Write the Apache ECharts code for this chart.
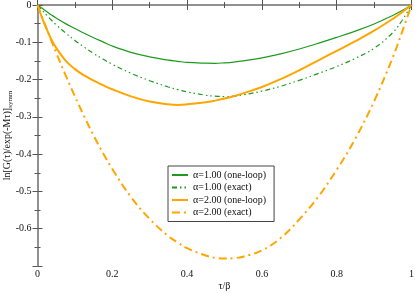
<!DOCTYPE html>
<html><head><meta charset="utf-8">
<script src="https://cdn.jsdelivr.net/npm/echarts@6/dist/echarts.min.js"></script>
<style>html,body{margin:0;padding:0;background:#fff}#c{width:415px;height:293px}</style>
</head><body><div id="c"></div>
<script>
var tau = [0, 0.0125, 0.025, 0.0375, 0.05, 0.075, 0.1, 0.125, 0.15, 0.175, 0.2, 0.25, 0.3, 0.35, 0.375, 0.4, 0.45, 0.475, 0.5, 0.525, 0.55, 0.6, 0.65, 0.7, 0.75, 0.8, 0.85, 0.9, 0.95, 0.975, 1];
var green1Loop  = [0, -0.009, -0.018, -0.027, -0.035, -0.050, -0.063, -0.076, -0.088, -0.099, -0.110, -0.127, -0.139, -0.148, -0.151, -0.154, -0.156, -0.1563, -0.155, -0.153, -0.150, -0.142, -0.131, -0.118, -0.103, -0.087, -0.070, -0.051, -0.028, -0.015, 0];
var greenExact  = [0, -0.014, -0.028, -0.041, -0.053, -0.075, -0.095, -0.113, -0.130, -0.145, -0.159, -0.183, -0.203, -0.220, -0.227, -0.233, -0.242, -0.2445, -0.2455, -0.2445, -0.241, -0.231, -0.218, -0.202, -0.184, -0.165, -0.143, -0.116, -0.074, -0.041, 0];
var orange1Loop = [0, -0.035, -0.066, -0.093, -0.115, -0.149, -0.172, -0.189, -0.203, -0.215, -0.226, -0.245, -0.259, -0.2665, -0.268, -0.2665, -0.261, -0.2565, -0.251, -0.2445, -0.237, -0.220, -0.199, -0.175, -0.149, -0.123, -0.097, -0.069, -0.037, -0.019, 0];
var orangeExact = [0, -0.033, -0.065, -0.097, -0.128, -0.188, -0.245, -0.299, -0.350, -0.397, -0.440, -0.515, -0.574, -0.620, -0.637, -0.652, -0.672, -0.678, -0.680, -0.679, -0.675, -0.658, -0.625, -0.575, -0.515, -0.442, -0.358, -0.258, -0.140, -0.072, 0];
var names = ['α=1.00 (one-loop)', 'α=1.00 (exact)', 'α=2.00 (one-loop)', 'α=2.00 (exact)'];
var xTicks = [0, 0.2, 0.4, 0.6, 0.8, 1];
var yTicks = [0, -0.1, -0.2, -0.3, -0.4, -0.5, -0.6];

function pairs(ys){ return tau.map(function(t,i){ return [t, ys[i]]; }); }
var GREEN = '#1f9a1f', ORANGE = '#ffa500';
var FONT = 'Liberation Serif';
var axLine = {lineStyle:{color:'#8a8a8a', width:1.5}};
var tick = {inside:true, length:5, lineStyle:{color:'#555', width:1}};
var mtick = {show:true, splitNumber:2, length:3, lineStyle:{color:'#555', width:1}};
var chart = echarts.init(document.getElementById('c'));
chart.setOption({
  animation:false,
  grid:{left:37.5, right:3.5, top:5, bottom:27, outerBoundsMode:'none', containLabel:false},
  legend:{
    orient:'vertical', left:168, top:166, width:108,
    padding:[4,8,4,3], itemGap:2.5, itemWidth:16, itemHeight:8,
    borderColor:'#444', borderWidth:1, backgroundColor:'#fff',
    itemStyle:{opacity:0},
    textStyle:{fontFamily:FONT, fontSize:10, color:'#111'},
    data: names
  },
  xAxis:[
    {type:'value', min:0, max:1, interval:0.2, position:'bottom',
     name:'τ/β', nameLocation:'middle', nameGap:15, nameMoveOverlap:false,
     nameTextStyle:{fontFamily:FONT, fontSize:10, color:'#111'},
     axisLine:axLine, axisTick:tick, minorTick:mtick, splitLine:{show:false},
     axisLabel:{fontFamily:FONT, fontSize:10, color:'#111', margin:3,
       formatter:function(v){ return xTicks.indexOf(+v.toFixed(2))>=0 ? String(+v.toFixed(2)) : ''; }}},
    {type:'value', min:0, max:1, interval:0.2, position:'top',
     axisLine:axLine, axisTick:tick, minorTick:mtick, splitLine:{show:false}, axisLabel:{show:false}}
  ],
  yAxis:[
    {type:'value', min:-0.7, max:0, interval:0.1, position:'left',
     name:'{a|ln[G(τ)/exp(-Mτ)]}{b|symm}', nameLocation:'middle', nameGap:24, nameRotate:90, nameMoveOverlap:false,
     nameTextStyle:{fontFamily:FONT, fontSize:10, color:'#111',
       rich:{a:{fontFamily:FONT, fontSize:10, color:'#111'}, b:{fontFamily:FONT, fontSize:7, color:'#111', padding:[6,0,0,0]}}},
     axisLine:axLine, axisTick:tick, minorTick:mtick, splitLine:{show:false},
     axisLabel:{fontFamily:FONT, fontSize:10, color:'#111', margin:6,
       formatter:function(v){ var r=+v.toFixed(2); return yTicks.indexOf(r)>=0 ? String(r) : ''; }}},
    {type:'value', min:-0.7, max:0, interval:0.1, position:'right',
     axisLine:axLine, axisTick:tick, minorTick:mtick, splitLine:{show:false}, axisLabel:{show:false}}
  ],
  series:[
    {name:names[0], type:'line', smooth:0.4, symbol:'none', data:pairs(green1Loop),
     lineStyle:{color:GREEN, width:1.2}, itemStyle:{color:GREEN}},
    {name:names[1], type:'line', smooth:0.4, symbol:'none', data:pairs(greenExact),
     lineStyle:{color:GREEN, width:1.2, type:[5,3,1.5,3,1.5,3]}, itemStyle:{color:GREEN}},
    {name:names[2], type:'line', smooth:0.4, symbol:'none', data:pairs(orange1Loop),
     lineStyle:{color:ORANGE, width:2}, itemStyle:{color:ORANGE}},
    {name:names[3], type:'line', smooth:0.4, symbol:'none', data:pairs(orangeExact),
     lineStyle:{color:ORANGE, width:2, type:[8,4,2,4]}, itemStyle:{color:ORANGE}}
  ]
});
</script></body></html>
